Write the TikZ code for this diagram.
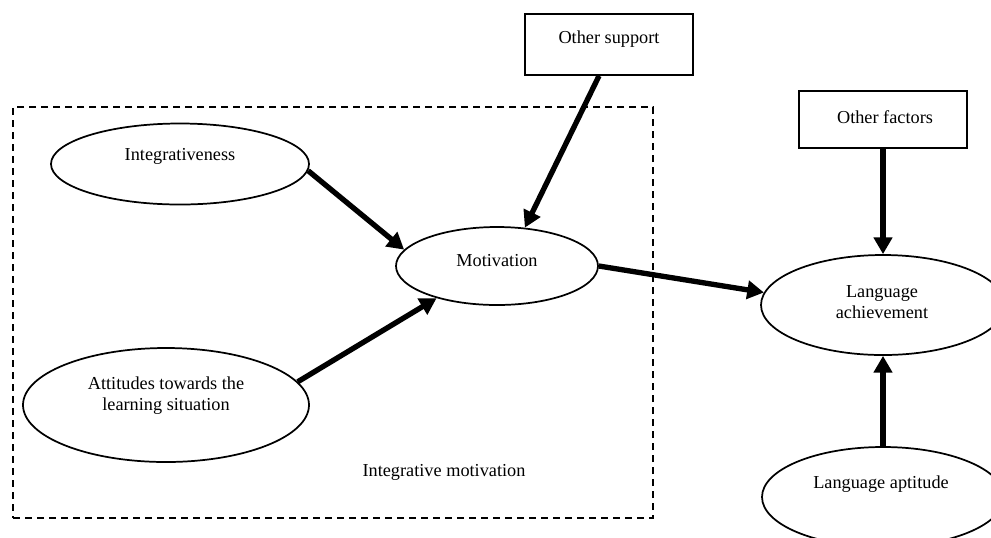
\documentclass[tikz,border=0pt]{standalone}
\usepackage{fontspec}
\setmainfont{Liberation Serif}
\usetikzlibrary{arrows.meta,shapes.geometric}
\begin{document}
\begin{tikzpicture}[x=0.75pt,y=-0.75pt,
 ell/.style={draw, ellipse, line width=1.3pt, inner sep=0pt},
 box/.style={draw, rectangle, line width=1.3pt, inner sep=0pt},
 txt/.style={font=\fontsize{13.7}{15.8}\selectfont, align=center, inner sep=0pt},
 conn/.style={line width=4pt, -{Triangle[length=12.5pt,width=13.5pt]}},
 frame/.style={draw, line width=1.1pt, dash pattern=on 5.5pt off 3.5pt, inner sep=0pt}]
\clip (0,0) rectangle (991,537);
% dashed frame
\node[frame, minimum width=480pt, minimum height=308.25pt] (imframe) at (333,312.5) {};
% shapes
\node[ell, minimum width=193.5pt, minimum height=60.75pt] (integ) at (180,164) {};
\node[ell, minimum width=151.5pt, minimum height=58.5pt] (mot) at (497,266) {};
\node[ell, minimum width=214.5pt, minimum height=85.5pt] (att) at (166,405) {};
\node[ell, minimum width=183pt, minimum height=75pt] (la) at (883,305) {};
\node[ell, minimum width=181.5pt, minimum height=75pt] (lap) at (883,497) {};
\node[box, minimum width=126pt, minimum height=45.75pt] (osup) at (609,44.5) {};
\node[box, minimum width=126pt, minimum height=42.75pt] (of) at (883,119.5) {};
% texts
\node[txt] (tinteg) at (180,156) {Integrativeness};
\node[txt] (tmot) at (497,261) {Motivation};
\node[txt] (tatt) at (166,396) {Attitudes towards the\\learning situation};
\node[txt] (tim) at (444,472) {Integrative motivation};
\node[txt] (tosup) at (609,39) {Other support};
\node[txt] (tof) at (885,117) {Other factors};
\node[txt] (tla) at (882,302) {Language\\achievement};
\node[txt] (tlap) at (881,484) {Language aptitude};
% connectors
\draw[conn] (integ.-3) -- (mot.170);
\draw[conn] ([xshift=-7.5pt]osup.south) -- (mot.54);
\draw[conn] (att.10) -- (mot.208);
\draw[conn] (mot.east) -- (la.174);
\draw[conn] (of.south) -- (la.north);
\draw[conn] (lap.north) -- (la.south);
\end{tikzpicture}
\end{document}
